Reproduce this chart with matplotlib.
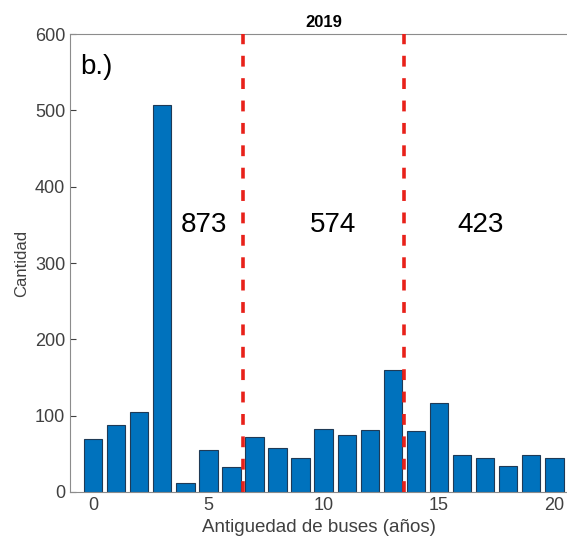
import numpy as np
import matplotlib.pyplot as plt

plt.rcParams['font.family'] = ['Liberation Sans', 'DejaVu Sans']

edades = np.arange(0, 21)
cantidad = [70, 88, 105, 507, 12, 55, 33, 72, 57, 45, 82, 75, 81, 160,
            80, 116, 49, 45, 34, 49, 44]
cortes = [6.5, 13.5]
totales = ['873', '574', '423']
pos_totales = [4.8, 10.4, 16.8]

fig = plt.figure(figsize=(5.67, 5.42), dpi=100)
ax = fig.add_axes([0.1235, 0.0923, 0.8765, 0.8447])

ax.bar(edades, cantidad, width=0.8, color='#0072BD', edgecolor='#1f3a56', linewidth=0.8, zorder=2)
for c in cortes:
    ax.axvline(c, color='#e8211a', linestyle=(0, (3, 3.2)), linewidth=2.6, zorder=3)

for t, x in zip(totales, pos_totales):
    ax.text(x, 350, t, fontsize=20, ha='center', va='center', color='black')
ax.text(-0.55, 557, 'b.)', fontsize=20, ha='left', va='center', color='black')

ax.set_xlim(-1, 20.55)
ax.set_ylim(0, 600)
ax.set_xticks([0, 5, 10, 15, 20])
ax.set_yticks(range(0, 601, 100))
ax.tick_params(direction='in', colors='#404040', labelsize=13, length=4)
for s in ['left', 'top', 'bottom']:
    ax.spines[s].set_color('#8c8c8c')
ax.spines['right'].set_visible(False)
ax.set_xlabel('Antiguedad de buses (años)', fontsize=13.5, color='#404040')
ax.set_ylabel('Cantidad', fontsize=12, color='#404040')
ax.set_title('2019', fontsize=12, fontweight='bold', x=11 / 21.55, pad=5)

fig.savefig('out.png', dpi=100)
